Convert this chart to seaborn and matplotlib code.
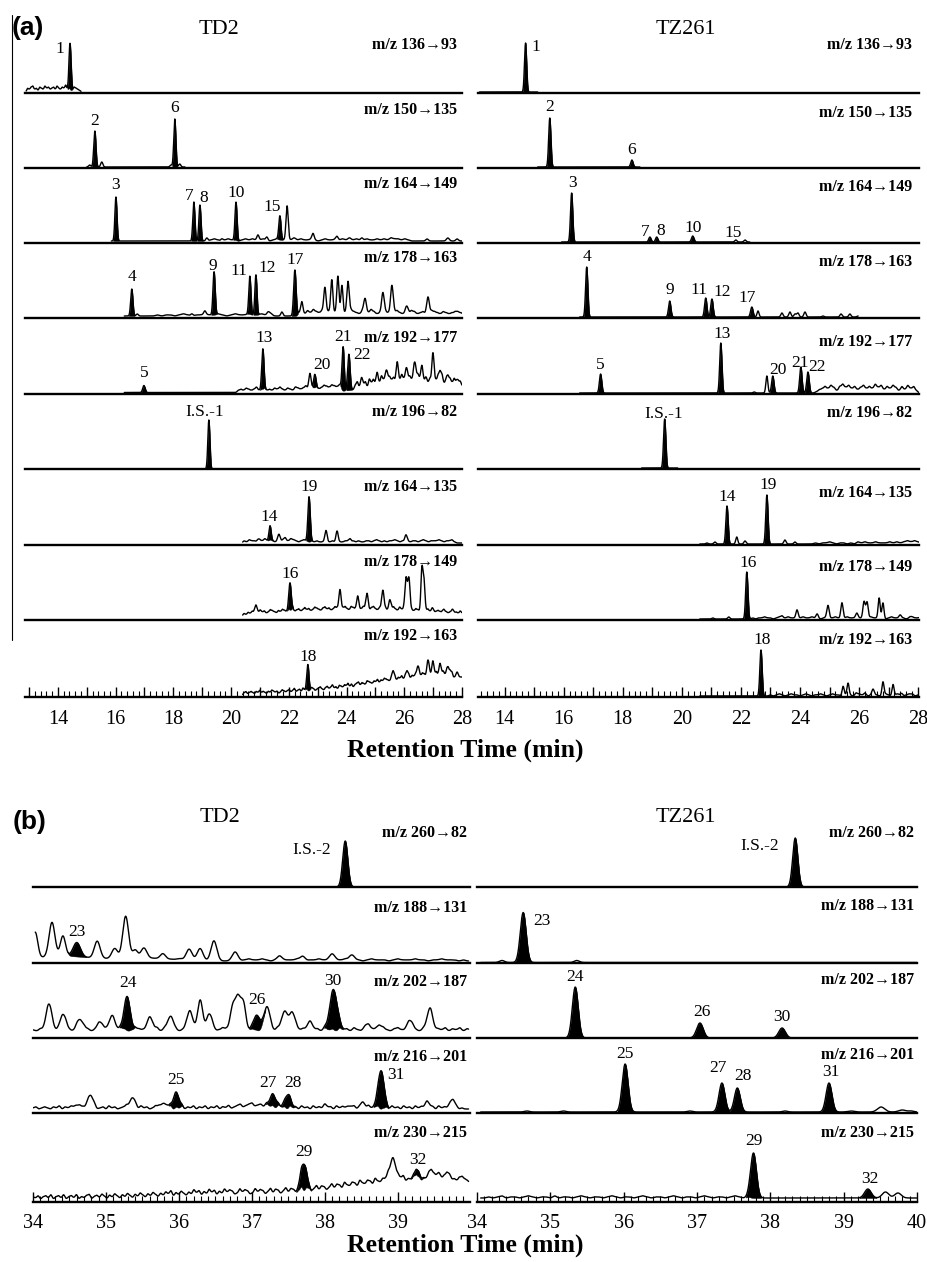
import numpy as np
import pandas as pd
import matplotlib
matplotlib.use("Agg")
import matplotlib.pyplot as plt
import seaborn as sns
from matplotlib.lines import Line2D

# peak tuples: (retention time, height, width, filled)
# noise tuples: (start, step, digit heights)
# label tuples: (text, rt, height above baseline)

# ---------------- panel (a), TD2 ----------------
td2_136_span = (12.9, 14.8, 1.5)
td2_136_peaks = [(14.42, 46, 0.036, 1)]
td2_136_noise = [(12.95, 0.06, "3245231432534234253243623124321")]
td2_136_labels = [("1", 14.07, 44)]

td2_150_span = (15.0, 18.4, 1.0)
td2_150_peaks = [(15.10, 2, 0.038, 0), (15.28, 36, 0.038, 1), (15.52, 5, 0.038, 0),
                 (17.92, 2, 0.038, 0), (18.05, 48, 0.036, 1), (18.22, 3, 0.038, 0)]
td2_150_labels = [("2", 15.28, 47), ("6", 18.05, 60)]

td2_164_span = (15.85, 28.0, 2)
td2_164_peaks = [(16.01, 44, 0.036, 1), (18.71, 39, 0.036, 1), (18.92, 36, 0.036, 1),
                 (19.16, 3, 0.038, 0), (19.68, 2, 0.038, 0), (20.17, 38, 0.036, 1),
                 (20.93, 5, 0.038, 0), (21.24, 3, 0.038, 0), (21.69, 24, 0.038, 1),
                 (21.94, 33, 0.038, 0), (22.84, 6, 0.038, 0), (23.67, 3, 0.038, 0),
                 (24.53, 2, 0.038, 0), (26.79, 2, 0.045, 0), (27.51, 3, 0.05, 0),
                 (27.83, 2, 0.045, 0)]
td2_164_noise = [(19.3, 0.12, "1210121101212112101211213121121012112121312112112121322121")]
td2_164_labels = [("3", 16.01, 58), ("7", 18.54, 47), ("8", 19.06, 45),
                  ("10", 20.17, 50), ("15", 21.42, 36)]

td2_178_span = (16.3, 28.0, 2)
td2_178_peaks = [(16.56, 27, 0.038, 1), (16.75, 2, 0.038, 0), (18.64, 2, 0.038, 0),
                 (19.09, 3, 0.038, 0), (19.41, 43, 0.038, 1), (20.65, 38, 0.036, 1),
                 (20.86, 40, 0.036, 1), (21.28, 2, 0.038, 0), (21.76, 4, 0.038, 0),
                 (22.21, 46, 0.042, 1), (22.45, 10, 0.038, 0), (23.25, 26, 0.04, 0),
                 (23.49, 31, 0.036, 0), (23.70, 35, 0.036, 0), (23.84, 28, 0.036, 0),
                 (24.05, 29, 0.04, 0), (24.64, 13, 0.045, 0), (25.26, 18, 0.045, 0),
                 (25.57, 28, 0.045, 0), (26.09, 6, 0.045, 0), (26.82, 16, 0.045, 0),
                 (27.76, 2, 0.045, 0)]
td2_178_noise = [(17.45, 0.15, "101101210112112101211211213"),
                 (22.35, 0.1, "342536435246354235643254364235432453243542342354324323243232")]
td2_178_labels = [("4", 16.56, 41), ("9", 19.37, 52), ("11", 20.27, 47),
                  ("12", 21.24, 50), ("17", 22.21, 58)]

td2_192_span = (16.3, 28.0, 1.5)
td2_192_peaks = [(16.98, 7, 0.042, 1), (21.10, 40, 0.038, 1), (22.73, 15, 0.038, 0),
                 (22.90, 13, 0.038, 1), (23.88, 44, 0.038, 1), (24.08, 36, 0.042, 1),
                 (26.3, 10, 1.3, 0), (24.53, 6, 0.038, 0), (25.05, 8, 0.038, 0),
                 (25.40, 10, 0.038, 0), (25.75, 17, 0.038, 0), (26.09, 10, 0.038, 0),
                 (26.37, 13, 0.038, 0), (26.61, 10, 0.038, 0), (26.99, 26, 0.034, 0),
                 (27.24, 8, 0.038, 0), (27.51, 7, 0.038, 0), (27.86, 6, 0.038, 0)]
td2_192_noise = [(20.25, 0.09, "2324323523423243532432543463445346546546"),
                 (24.3, 0.07, "4725361847263958274615384726395847261537485926374851627394857263")]
td2_192_labels = [("5", 16.98, 21), ("13", 21.14, 56), ("20", 23.15, 29),
                  ("21", 23.88, 57), ("22", 24.53, 39)]

td2_196_span = (18.95, 19.5, 0)
td2_196_peaks = [(19.23, 49, 0.036, 1)]
td2_196_labels = [("I.S.-1", 19.09, 57)]

td2_164b_span = (20.4, 28.0, 2)
td2_164b_peaks = [(20.93, 2, 0.038, 0), (21.35, 14, 0.038, 1), (21.66, 6, 0.038, 0),
                  (21.87, 3, 0.038, 0), (22.70, 45, 0.04, 1), (23.29, 11, 0.038, 0),
                  (23.67, 10, 0.038, 0), (24.12, 3, 0.038, 0), (26.06, 6, 0.038, 0)]
td2_164b_noise = [(20.45, 0.09, "2132213242321323224321232121211211212112212121122123212122321222122123212223212231")]
td2_164b_labels = [("14", 21.31, 28), ("19", 22.70, 58)]

td2_178b_span = (20.4, 28.0, 4)
td2_178b_peaks = [(24.5, 3, 2.0, 0), (20.86, 8, 0.038, 0), (22.04, 27, 0.04, 1),
                  (23.77, 20, 0.038, 0), (24.39, 12, 0.038, 0), (24.71, 15, 0.038, 0),
                  (25.26, 18, 0.038, 0), (25.50, 9, 0.038, 0), (26.06, 32, 0.038, 0),
                  (26.16, 30, 0.038, 0), (26.61, 38, 0.034, 0), (26.68, 30, 0.034, 0),
                  (26.99, 3, 0.038, 0), (27.34, 2, 0.038, 0), (27.69, 2, 0.038, 0)]
td2_178b_noise = [(20.45, 0.07, "213243235342354324354354634534645346543564534653456436545346543564356453456436453654354363453423432432342324232")]
td2_178b_labels = [("16", 22.04, 46)]

td2_192b_span = (20.4, 28.0, 2)
td2_192b_peaks = [(28.0, 18, 2.5, 0), (22.66, 26, 0.036, 1), (25.61, 8, 0.038, 0),
                  (26.09, 6, 0.038, 0), (26.47, 10, 0.038, 0), (26.82, 14, 0.038, 0),
                  (26.99, 12, 0.038, 0), (27.24, 9, 0.038, 0), (27.51, 6, 0.038, 0),
                  (27.83, 5, 0.038, 0)]
td2_192b_noise = [(20.45, 0.06, "2312321324232132432312432342352342534235423453245346342543546352456354365435463546543546354635463546354653463546354635465")]
td2_192b_labels = [("18", 22.66, 40)]

# ---------------- panel (a), TZ261 ----------------
tz_136_span = (13.15, 15.12, 1)
tz_136_peaks = [(14.71, 49, 0.036, 1)]
tz_136_labels = [("1", 15.05, 46)]

tz_150_span = (15.12, 18.58, 1)
tz_150_peaks = [(15.53, 49, 0.038, 1), (18.31, 7, 0.04, 1)]
tz_150_labels = [("2", 15.53, 61), ("6", 18.31, 18)]

tz_164_span = (15.93, 22.3, 1)
tz_164_peaks = [(16.27, 49, 0.038, 1), (18.92, 5, 0.04, 1), (19.15, 5, 0.04, 1),
                (20.37, 6, 0.042, 1), (21.83, 2, 0.038, 0), (22.14, 2, 0.038, 0)]
tz_164_labels = [("3", 16.30, 60), ("7", 18.75, 11), ("8", 19.29, 12),
                 ("10", 20.37, 15), ("15", 21.73, 10)]

tz_178_span = (16.54, 25.97, 1)
tz_178_peaks = [(16.78, 50, 0.038, 1), (19.59, 16, 0.04, 1), (20.81, 19, 0.04, 1),
                (21.02, 18, 0.04, 1), (22.37, 10, 0.042, 1), (22.58, 6, 0.034, 0),
                (23.39, 4, 0.038, 0), (23.66, 5, 0.038, 0), (23.83, 3, 0.038, 0),
                (23.93, 4, 0.038, 0), (24.17, 5, 0.038, 0), (24.78, 1, 0.038, 0),
                (25.39, 3, 0.038, 0), (25.69, 3, 0.038, 0), (25.97, 1, 0.038, 0)]
tz_178_labels = [("4", 16.78, 61), ("9", 19.59, 28), ("11", 20.58, 28),
                 ("12", 21.36, 26), ("17", 22.20, 20)]

tz_192_span = (16.54, 28.03, 1)
tz_192_peaks = [(17.25, 19, 0.04, 1), (21.32, 50, 0.038, 1), (22.45, 1, 0.038, 0),
                (22.88, 17, 0.034, 0), (23.08, 17, 0.04, 1), (24.03, 26, 0.04, 1),
                (24.27, 21, 0.042, 1)]
tz_192_noise = [(24.55, 0.1, "13464752685746357464857364752637462")]
tz_192_labels = [("5", 17.25, 29), ("13", 21.36, 60), ("20", 23.27, 24),
                 ("21", 24.0, 31), ("22", 24.58, 27)]

tz_196_span = (18.64, 19.86, 1)
tz_196_peaks = [(19.42, 49, 0.038, 1)]
tz_196_labels = [("I.S.-1", 19.39, 55)]

tz_164b_span = (20.61, 28.03, 1)
tz_164b_peaks = [(20.85, 1, 0.038, 0), (21.12, 2, 0.038, 0), (21.53, 38, 0.038, 1),
                 (21.86, 7, 0.034, 0), (22.14, 3, 0.038, 0), (22.88, 49, 0.038, 1),
                 (23.49, 4, 0.038, 0), (23.83, 2, 0.038, 0)]
tz_164b_noise = [(24.4, 0.12, "0101121011010212112111212123232")]
tz_164b_labels = [("14", 21.53, 48), ("19", 22.92, 60)]

tz_178b_span = (20.61, 28.03, 1)
tz_178b_peaks = [(21.05, 1, 0.038, 0), (21.59, 2, 0.038, 0), (22.20, 47, 0.038, 1),
                 (23.39, 2, 0.038, 0), (23.90, 9, 0.038, 0), (24.58, 4, 0.038, 0),
                 (24.95, 12, 0.038, 0), (25.42, 16, 0.038, 0), (25.93, 4, 0.038, 0),
                 (26.17, 17, 0.038, 0), (26.27, 16, 0.038, 0), (26.68, 19, 0.034, 0),
                 (26.81, 15, 0.034, 0), (27.39, 2, 0.038, 0), (27.73, 1, 0.038, 0)]
tz_178b_noise = [(22.4, 0.1, "1011211012112110121121101211210121121101211210121121012112101")]
tz_178b_labels = [("16", 22.24, 57)]

tz_192b_span = (20.61, 28.03, 1)
tz_192b_peaks = [(22.68, 46, 0.038, 1), (25.46, 9, 0.034, 0), (25.63, 11, 0.034, 0),
                 (25.90, 2, 0.038, 0), (26.20, 2, 0.038, 0), (26.47, 5, 0.038, 0),
                 (26.81, 13, 0.034, 0), (27.15, 11, 0.034, 0), (27.45, 2, 0.038, 0),
                 (27.80, 1, 0.038, 0)]
tz_192b_noise = [(23.0, 0.1, "1012101211012101121012110121012110121012101210121012101")]
tz_192b_labels = [("18", 22.71, 57)]

# ---------------- panel (b), TD2 ----------------
td2_260_span = (38.0, 38.6, 0)
td2_260_peaks = [(38.28, 46, 0.035, 1)]
td2_260_labels = [("I.S.-2", 37.82, 37)]

td2_188_span = (34.03, 39.97, 2)
td2_188_peaks = [(34.4, 5, 0.35, 0), (35.5, 3, 0.4, 0),
                 (34.03, 26, 0.035, 0), (34.26, 34, 0.04, 0), (34.41, 20, 0.035, 0),
                 (34.60, 14, 0.05, 1), (34.88, 17, 0.04, 0), (35.12, 10, 0.04, 0),
                 (35.27, 42, 0.04, 0), (35.40, 8, 0.035, 0), (35.52, 10, 0.04, 0),
                 (35.78, 5, 0.035, 0), (36.01, 1, 0.035, 0), (36.14, 11, 0.04, 0),
                 (36.29, 12, 0.04, 0), (36.48, 20, 0.04, 0), (36.77, 9, 0.04, 0),
                 (37.38, 3, 0.035, 0), (37.70, 4, 0.035, 0), (38.10, 7, 0.035, 0),
                 (38.37, 5, 0.035, 0)]
td2_188_noise = [(36.9, 0.06, "121121012111210112110112111012111012111211011211101")]
td2_188_labels = [("23", 34.60, 31)]

td2_202_span = (34.0, 39.97, 6)
td2_202_peaks = [(34.22, 24, 0.04, 0), (34.41, 14, 0.04, 0), (34.64, 10, 0.04, 0),
                 (34.92, 6, 0.04, 0), (35.08, 14, 0.04, 0), (35.29, 34, 0.04, 1),
                 (35.60, 12, 0.04, 0), (35.88, 12, 0.04, 0), (36.15, 17, 0.04, 0),
                 (36.29, 29, 0.035, 0), (36.42, 14, 0.04, 0), (36.74, 24, 0.035, 0),
                 (36.81, 28, 0.035, 0), (36.88, 25, 0.035, 0), (37.07, 15, 0.045, 1),
                 (37.21, 22, 0.04, 0), (37.45, 18, 0.04, 0), (37.55, 16, 0.04, 0),
                 (37.79, 7, 0.04, 0), (38.12, 40, 0.05, 1), (38.58, 4, 0.04, 0),
                 (38.73, 4, 0.04, 0), (39.16, 8, 0.04, 0), (39.44, 20, 0.04, 0)]
td2_202_noise = [(34.0, 0.05, "213243123421324312432132431243213241324312342132431243213241321432143213423142314231423142134213421342134213241324132413241321")]
td2_202_labels = [("24", 35.30, 55), ("26", 37.07, 38), ("30", 38.11, 57)]

td2_216_span = (34.0, 39.97, 4)
td2_216_peaks = [(34.58, 3, 0.04, 0), (34.78, 12, 0.04, 0), (35.36, 10, 0.04, 0),
                 (35.78, 5, 0.04, 0), (35.96, 15, 0.04, 1), (37.05, 3, 0.2, 0),
                 (37.29, 12, 0.04, 1), (37.49, 13, 0.04, 1), (38.00, 2, 0.04, 0),
                 (38.30, 2, 0.04, 0), (38.52, 5, 0.04, 0), (38.77, 38, 0.04, 1),
                 (39.40, 5, 0.04, 0), (39.74, 7, 0.04, 0)]
td2_216_noise = [(34.0, 0.04, "1201210213021201320123012031201230120312013201230213021302130213021301230123012031203120312031203120312031201230120312301203120312031203120312013201")]
td2_216_labels = [("25", 35.96, 33), ("27", 37.22, 30), ("28", 37.56, 30), ("31", 38.97, 38)]

td2_230_span = (34.0, 39.97, 3)
td2_230_peaks = [(36.5, 4, 0.8, 0), (39.4, 19, 1.1, 0), (37.71, 26, 0.04, 1),
                 (38.93, 22, 0.04, 0), (39.27, 6, 0.035, 1), (39.45, 5, 0.035, 0),
                 (39.55, 6, 0.035, 0), (39.70, 4, 0.035, 0)]
td2_230_noise = [(34.0, 0.035, "2130231402314023140213402314203142031420314203142031425031420315240315240315243015243015243025143025143025143025143025143052143052143052143502143502145302145302145302145320145320145")]
td2_230_labels = [("29", 37.71, 50), ("32", 39.27, 42)]

# ---------------- panel (b), TZ261 ----------------
tz_260_span = (38.0, 38.7, 0)
tz_260_peaks = [(38.34, 49, 0.035, 1)]
tz_260_labels = [("I.S.-2", 37.86, 41)]

tz_188_span = (34.05, 40.0, 0.5)
tz_188_peaks = [(34.34, 2, 0.035, 0), (34.63, 50, 0.04, 1), (35.36, 2, 0.035, 0)]
tz_188_labels = [("23", 34.89, 42)]

tz_202_span = (34.05, 40.0, 0)
tz_202_peaks = [(35.34, 51, 0.04, 1), (37.04, 15, 0.045, 1), (38.16, 10, 0.045, 1)]
tz_202_labels = [("24", 35.34, 61), ("26", 37.07, 26), ("30", 38.16, 21)]

tz_216_span = (34.05, 40.0, 1)
tz_216_peaks = [(34.68, 1, 0.035, 0), (35.18, 1, 0.035, 0), (36.02, 48, 0.04, 1),
                (36.90, 1, 0.035, 0), (37.34, 29, 0.04, 1), (37.55, 24, 0.04, 1),
                (38.20, 1, 0.035, 0), (38.80, 29, 0.04, 1), (39.10, 1, 0.045, 0),
                (39.51, 5, 0.05, 0), (39.80, 2, 0.05, 0), (39.92, 1, 0.035, 0)]
tz_216_labels = [("25", 36.02, 59), ("27", 37.29, 45), ("28", 37.62, 37), ("31", 38.82, 41)]

tz_230_span = (34.05, 40.0, 4)
tz_230_peaks = [(37.77, 45, 0.04, 1), (39.33, 9, 0.045, 1), (39.57, 6, 0.045, 0), (39.74, 5, 0.045, 0)]
tz_230_noise = [(34.1, 0.06, "0101201101210110201101210110121011012101101210110121011012101")]
tz_230_labels = [("29", 37.77, 61), ("32", 39.36, 23)]

A_MZ = ["m/z 136→93", "m/z 150→135", "m/z 164→149", "m/z 178→163", "m/z 192→177",
        "m/z 196→82", "m/z 164→135", "m/z 178→149", "m/z 192→163"]
B_MZ = ["m/z 260→82", "m/z 188→131", "m/z 202→187", "m/z 216→201", "m/z 230→215"]
A_TICKS = [14, 16, 18, 20, 22, 24, 26, 28]
B_LEFT_TICKS = [34, 35, 36, 37, 38, 39]
B_RIGHT_TICKS = [34, 35, 36, 37, 38, 39, 40]

# ---------------- layout (pixels) ----------------
W, H = 928, 1262
A_BASE = [93, 168, 243, 318, 394, 469, 545, 620, 697]
B_BASE = [887, 963, 1038, 1113, 1202]
A_TD2_DY = [48, 58, 59, 60, 56, 57, 58, 58, 61]
A_TZ_DY = [48, 55, 56, 56, 52, 56, 52, 53, 57]
B_TD2_DY = [54, 55, 56, 56, 69]
B_TZ_DY = [54, 57, 58, 58, 69]

sns.set_theme(style="white")
plt.rcParams['font.family'] = ['Liberation Serif', 'DejaVu Serif']
plt.rcParams['text.color'] = 'black'
plt.rcParams['xtick.color'] = 'black'

fig = plt.figure(figsize=(W / 100, H / 100), dpi=100)


def gauss(x, c, h, s):
    return h * np.exp(-0.5 * ((x - c) / s) ** 2)


def build_trace(x, offset, peaks, noise):
    y = np.full_like(x, float(offset))
    for c, h, s, f in peaks:
        y += gauss(x, c, h, s)
    for start, step, digits in noise:
        for i, d in enumerate(digits):
            if d != '0':
                y += gauss(x, start + i * step, int(d), 0.45 * step)
    return y


def draw_row(L, R, xlim, base, span, peaks, labels, noise):
    ax = fig.add_axes([L / W, 1 - base / H, (R - L) / W, 60 / H])
    ax.patch.set_alpha(0)
    x0, x1, off = span
    x = np.linspace(x0, x1, int((x1 - x0) * 700) + 50)
    y = build_trace(x, off, peaks, noise)
    df = pd.DataFrame({"rt": x, "abundance": y})
    sns.lineplot(data=df, x="rt", y="abundance", ax=ax, color="black", lw=1.0,
                 estimator=None, sort=False)
    for c, h, s, f in peaks:
        if f:
            under = y - gauss(x, c, h, s)
            ax.fill_between(x, under, y, where=np.abs(x - c) < 2.6 * s,
                            color="black", lw=0.3, edgecolor="black")
    for t, lx, ly in labels:
        ax.text(lx, ly, t, ha="center", va="center", fontsize=12.5, clip_on=False)
    ax.set_xlim(*xlim)
    ax.set_ylim(0, 60)
    ax.set_xlabel("")
    ax.set_ylabel("")
    ax.set_yticks([])
    ax.set_xticks([])
    for side in ["top", "left", "right"]:
        ax.spines[side].set_visible(False)
    ax.spines["bottom"].set_color("black")
    ax.spines["bottom"].set_linewidth(1.7)
    return ax


def set_bottom_ticks(ax, xlim, labeled, minor_step):
    majors = np.arange(np.ceil(xlim[0]), np.floor(xlim[1]) + 0.01, 1.0)
    ax.set_xticks(majors, labels=[str(int(m)) if int(m) in labeled else "" for m in majors])
    ax.set_xticks(np.arange(np.ceil(xlim[0] / minor_step) * minor_step, xlim[1] + 1e-6,
                            minor_step), minor=True)
    ax.tick_params(axis="x", which="major", direction="in", length=7, width=1,
                   bottom=True, labelsize=14.5, pad=9, colors="black")
    ax.tick_params(axis="x", which="minor", direction="in", length=4, width=0.8,
                   bottom=True, colors="black")


def draw_column(L, R, xlim, bases, mz, dys, mz_right, rows, labeled, minor_step):
    for i, (base, dy, name, row) in enumerate(zip(bases, dys, mz, rows)):
        span, peaks, labels, noise = row
        ax = draw_row(L, R, xlim, base, span, peaks, labels, noise)
        fig.text(mz_right / W, 1 - (base - dy) / H, name, ha="right", va="center",
                 fontsize=11.5, fontweight="bold")
        if i == len(rows) - 1:
            set_bottom_ticks(ax, xlim, labeled, minor_step)


a_td2_rows = [(td2_136_span, td2_136_peaks, td2_136_labels, td2_136_noise),
              (td2_150_span, td2_150_peaks, td2_150_labels, []),
              (td2_164_span, td2_164_peaks, td2_164_labels, td2_164_noise),
              (td2_178_span, td2_178_peaks, td2_178_labels, td2_178_noise),
              (td2_192_span, td2_192_peaks, td2_192_labels, td2_192_noise),
              (td2_196_span, td2_196_peaks, td2_196_labels, []),
              (td2_164b_span, td2_164b_peaks, td2_164b_labels, td2_164b_noise),
              (td2_178b_span, td2_178b_peaks, td2_178b_labels, td2_178b_noise),
              (td2_192b_span, td2_192b_peaks, td2_192b_labels, td2_192b_noise)]
a_tz_rows = [(tz_136_span, tz_136_peaks, tz_136_labels, []),
             (tz_150_span, tz_150_peaks, tz_150_labels, []),
             (tz_164_span, tz_164_peaks, tz_164_labels, []),
             (tz_178_span, tz_178_peaks, tz_178_labels, []),
             (tz_192_span, tz_192_peaks, tz_192_labels, tz_192_noise),
             (tz_196_span, tz_196_peaks, tz_196_labels, []),
             (tz_164b_span, tz_164b_peaks, tz_164b_labels, tz_164b_noise),
             (tz_178b_span, tz_178b_peaks, tz_178b_labels, tz_178b_noise),
             (tz_192b_span, tz_192b_peaks, tz_192b_labels, tz_192b_noise)]
b_td2_rows = [(td2_260_span, td2_260_peaks, td2_260_labels, []),
              (td2_188_span, td2_188_peaks, td2_188_labels, td2_188_noise),
              (td2_202_span, td2_202_peaks, td2_202_labels, td2_202_noise),
              (td2_216_span, td2_216_peaks, td2_216_labels, td2_216_noise),
              (td2_230_span, td2_230_peaks, td2_230_labels, td2_230_noise)]
b_tz_rows = [(tz_260_span, tz_260_peaks, tz_260_labels, []),
             (tz_188_span, tz_188_peaks, tz_188_labels, []),
             (tz_202_span, tz_202_peaks, tz_202_labels, []),
             (tz_216_span, tz_216_peaks, tz_216_labels, []),
             (tz_230_span, tz_230_peaks, tz_230_labels, tz_230_noise)]

draw_column(25, 462, (12.86, 28.0), A_BASE, A_MZ, A_TD2_DY, 457, a_td2_rows, A_TICKS, 0.2)
draw_column(478, 919, (13.1, 28.03), A_BASE, A_MZ, A_TZ_DY, 912, a_tz_rows, A_TICKS, 0.2)
draw_column(33, 470, (34.0, 39.99), B_BASE, B_MZ, B_TD2_DY, 467, b_td2_rows, B_LEFT_TICKS, 0.1)
draw_column(477, 917, (34.0, 40.0), B_BASE, B_MZ, B_TZ_DY, 914, b_tz_rows, B_RIGHT_TICKS, 0.1)


def ftext(px, py, s, **kw):
    fig.text(px / W, 1 - py / H, s, ha="center", va="center", **kw)


ftext(219, 29, "TD2", fontsize=16)
ftext(686, 29, "TZ261", fontsize=16)
ftext(220, 818, "TD2", fontsize=16)
ftext(686, 817, "TZ261", fontsize=16)
ftext(28, 28, "(a)", fontsize=19, fontweight="bold", family=["Liberation Sans", "DejaVu Sans"])
ftext(30, 822, "(b)", fontsize=19, fontweight="bold", family=["Liberation Sans", "DejaVu Sans"])
ftext(465, 750, "Retention Time (min)", fontsize=18.5, fontweight="bold")
ftext(465, 1245, "Retention Time (min)", fontsize=18.5, fontweight="bold")

# thin frame edge on the left of panel (a)
fig.add_artist(Line2D([12 / W, 12 / W], [1 - 15 / H, 1 - 640 / H], color="black", lw=0.8))

fig.savefig("out.png", dpi=100, facecolor="white")
